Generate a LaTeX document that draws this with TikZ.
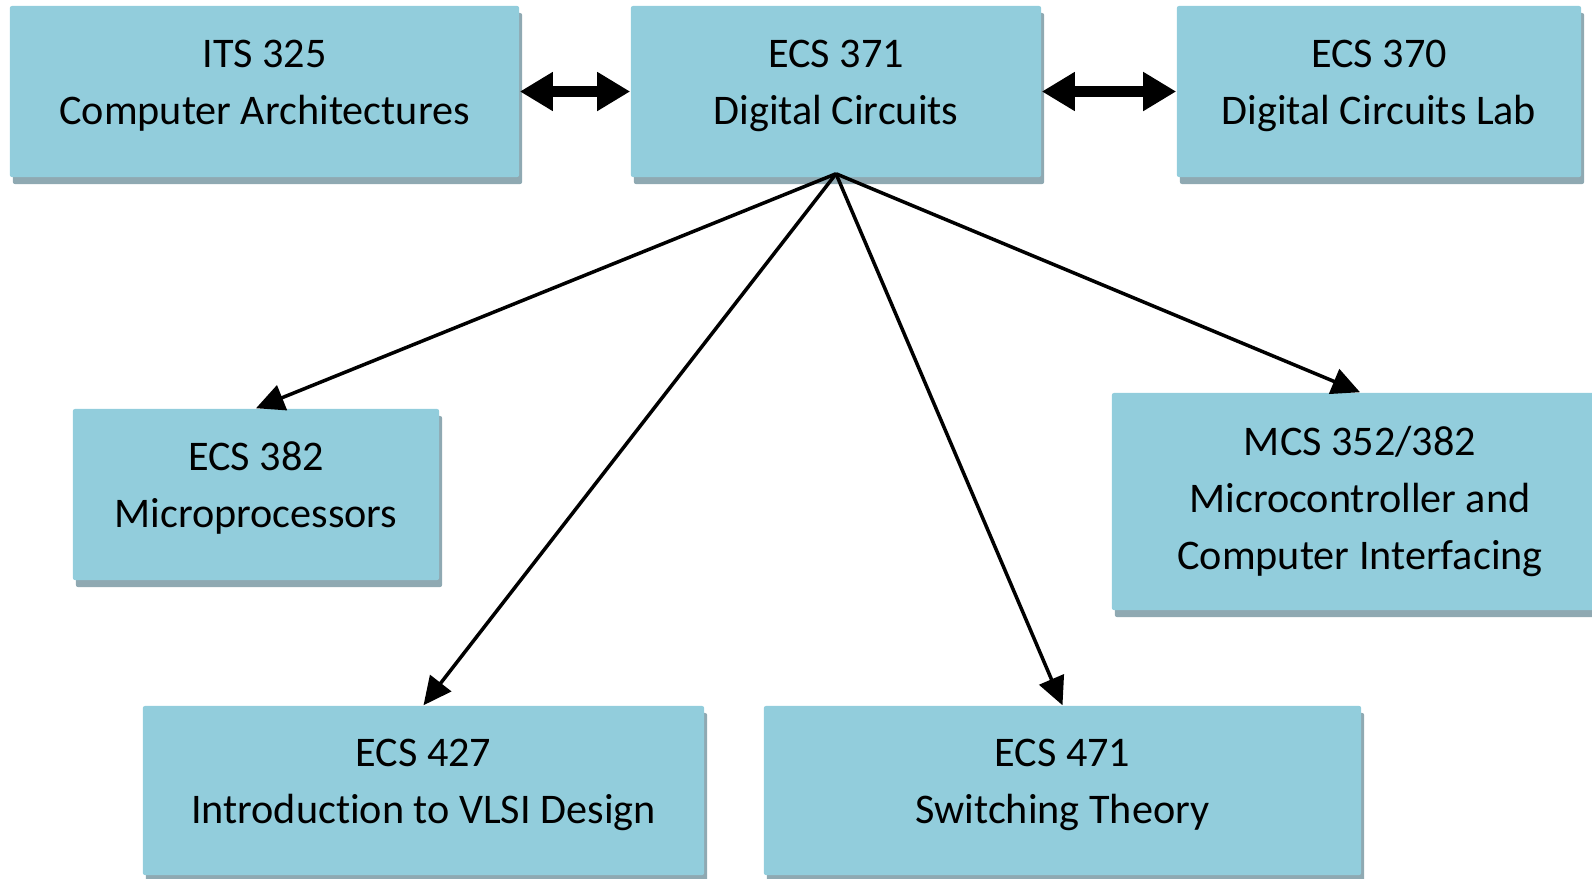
\documentclass[tikz,border=0pt]{standalone}
\usepackage{fontspec}
\setmainfont{Carlito}[Ligatures=NoCommon]
\usetikzlibrary{arrows.meta,shadows}
\definecolor{boxfill}{HTML}{92CDDC}
\definecolor{shadowc}{HTML}{8FA9B2}
\begin{document}
\begin{tikzpicture}[x=0.01cm,y=-0.01cm,
  box/.style={fill=boxfill, draw=none, rounded corners=0.6pt, align=center, inner sep=0pt,
    font=\fontsize{12}{16.2}\selectfont,
    general shadow={fill=shadowc, shadow xshift=0.03cm, shadow yshift=-0.07cm}},
  twoline/.style={text depth=5.4pt},
  link/.style={-{Triangle[length=8pt,width=7.5pt]}, line width=1pt},
  dbl/.style={{Triangle[length=9.4pt,width=10.5pt]}-{Triangle[length=9.4pt,width=10.5pt]}, line width=2.85pt}]
\useasboundingbox (0,0) rectangle (1592,878);
\node[box, twoline, minimum width=5.09cm, minimum height=1.71cm] (its) at (264.5,91.5) {ITS 325\\Computer Architectures};
\node[box, twoline, minimum width=4.10cm, minimum height=1.71cm] (e371) at (836,91.5) {ECS 371\\Digital Circuits};
\node[box, twoline, minimum width=4.04cm, minimum height=1.71cm] (e370) at (1379,91.5) {ECS 370\\Digital Circuits Lab};
\node[box, twoline, minimum width=3.66cm, minimum height=1.71cm] (e382) at (256,494.5) {ECS 382\\Microprocessors};
\node[box, minimum width=4.96cm, minimum height=2.17cm] (mcs) at (1360,501.5) {MCS 352/382\\Microcontroller and\\Computer Interfacing};
\node[box, twoline, minimum width=5.61cm, minimum height=1.69cm] (e427) at (423.5,790.5) {ECS 427\\Introduction to VLSI Design};
\node[box, twoline, minimum width=5.97cm, minimum height=1.69cm] (e471) at (1062.5,790.5) {ECS 471\\Switching Theory};
\draw[dbl] (its.east) -- (e371.west);
\draw[dbl] (e371.east) -- (e370.west);
\coordinate (apex) at ([yshift=0.04cm]e371.south);
\draw[link] (apex) -- (e382.north);
\draw[link] (apex) -- (e427.north);
\draw[link] (apex) -- (e471.north);
\draw[link] (apex) -- (mcs.north);
\end{tikzpicture}
\end{document}
